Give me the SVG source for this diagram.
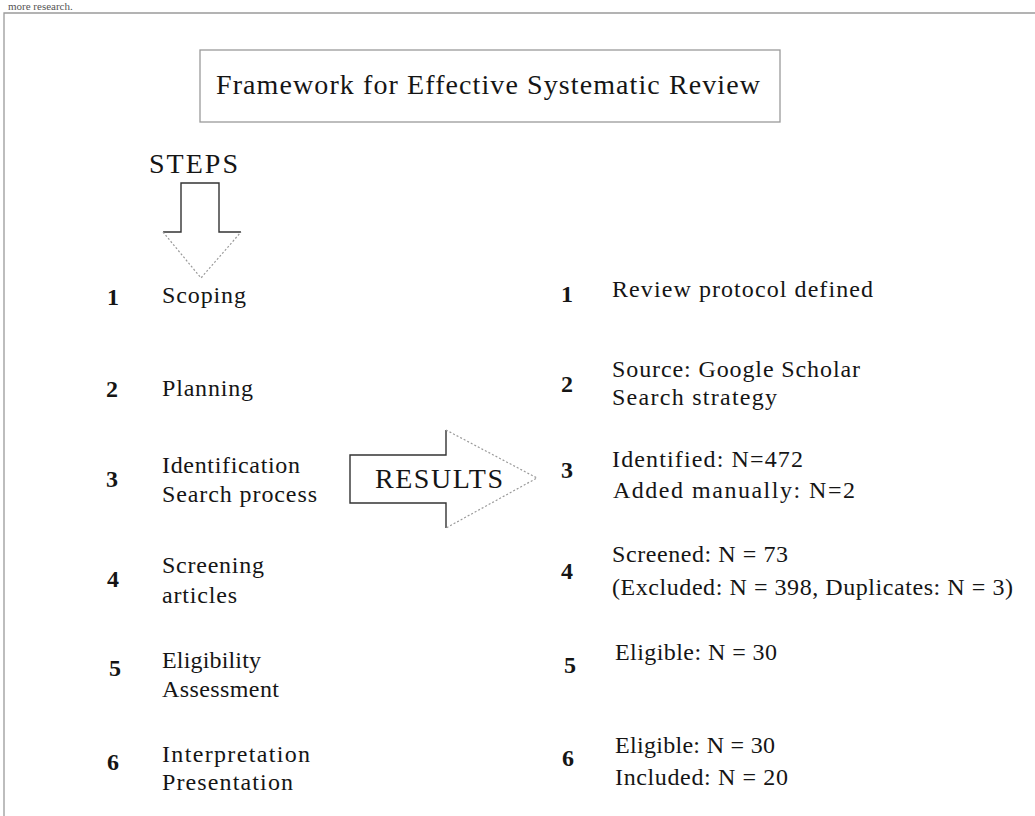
<svg xmlns="http://www.w3.org/2000/svg" width="1035" height="816" viewBox="0 0 1035 816">
<style>
.t,.h,.n,.s{font-family:"Liberation Serif","Times New Roman",serif;fill:#151515}
.t{font-size:24px}
.h{font-size:28px}
.n{font-size:24px;font-weight:bold}
.s{font-size:11px;fill:#555}
.frame{fill:none;stroke:#9a9a9a;stroke-width:1.3}
.solid{fill:none;stroke:#333;stroke-width:1.4}
.dot{fill:none;stroke:#9a9a9a;stroke-width:1.2;stroke-dasharray:2 2}
</style>
<rect width="1035" height="816" fill="#fff"/>
<text class="s" x="8" y="10">more research.</text>
<g id="outer-frame">
<polyline class="frame" points="1040,13 4,13 4,820"/>
</g>
<g id="title">
<rect class="frame" x="200" y="50" width="580" height="72"/>
<text class="h" x="216" y="94" textLength="544" lengthAdjust="spacing">Framework for Effective Systematic Review</text>
</g>
<g id="steps-arrow">
<text class="h" x="149" y="173" textLength="89" lengthAdjust="spacing">STEPS</text>
<polyline class="solid" points="163,232 181,232 181,183 219,183 219,232 241,232"/>
<polyline class="dot" points="163,232 201,278 241,232"/>
</g>
<g id="results-arrow">
<polyline class="solid" points="446,430 446,455 350,455 350,503 446,503 446,528"/>
<polyline class="dot" points="446,430 537,478 446,528"/>
<text class="h" x="375" y="488" textLength="128" lengthAdjust="spacing">RESULTS</text>
</g>
<g id="connectors"></g>
<g id="step1">
<text class="n" x="107" y="305">1</text>
<text class="t" x="162" y="303" textLength="84" lengthAdjust="spacing">Scoping</text>
</g>
<g id="step2">
<text class="n" x="106" y="397">2</text>
<text class="t" x="162" y="396" textLength="91" lengthAdjust="spacing">Planning</text>
</g>
<g id="step3">
<text class="n" x="106" y="487">3</text>
<text class="t" x="162" y="473" textLength="138" lengthAdjust="spacing">Identification</text>
<text class="t" x="162" y="502" textLength="155" lengthAdjust="spacing">Search process</text>
</g>
<g id="step4">
<text class="n" x="107" y="587">4</text>
<text class="t" x="162" y="573" textLength="102" lengthAdjust="spacing">Screening</text>
<text class="t" x="162" y="603" textLength="75" lengthAdjust="spacing">articles</text>
</g>
<g id="step5">
<text class="n" x="109" y="676">5</text>
<text class="t" x="162" y="668" textLength="99" lengthAdjust="spacing">Eligibility</text>
<text class="t" x="162" y="697" textLength="117" lengthAdjust="spacing">Assessment</text>
</g>
<g id="step6">
<text class="n" x="107" y="770">6</text>
<text class="t" x="162" y="762" textLength="148" lengthAdjust="spacing">Interpretation</text>
<text class="t" x="162" y="790" textLength="131" lengthAdjust="spacing">Presentation</text>
</g>
<g id="result1">
<text class="n" x="561" y="302">1</text>
<text class="t" x="612" y="297" textLength="261" lengthAdjust="spacing">Review protocol defined</text>
</g>
<g id="result2">
<text class="n" x="561" y="392">2</text>
<text class="t" x="612" y="377" textLength="248" lengthAdjust="spacing">Source:  Google Scholar</text>
<text class="t" x="612" y="405" textLength="165" lengthAdjust="spacing">Search strategy</text>
</g>
<g id="result3">
<text class="n" x="561" y="478">3</text>
<text class="t" x="612" y="467" textLength="191" lengthAdjust="spacing">Identified:  N=472</text>
<text class="t" x="613" y="498" textLength="242" lengthAdjust="spacing">Added manually:  N=2</text>
</g>
<g id="result4">
<text class="n" x="561" y="579">4</text>
<text class="t" x="612" y="562" textLength="176" lengthAdjust="spacing">Screened:  N = 73</text>
<text class="t" x="612" y="595" textLength="401" lengthAdjust="spacing">(Excluded:  N = 398, Duplicates:  N = 3)</text>
</g>
<g id="result5">
<text class="n" x="564" y="673">5</text>
<text class="t" x="615" y="660" textLength="162" lengthAdjust="spacing">Eligible:  N = 30</text>
</g>
<g id="result6">
<text class="n" x="562" y="766">6</text>
<text class="t" x="615" y="753" textLength="160" lengthAdjust="spacing">Eligible:  N = 30</text>
<text class="t" x="615" y="785" textLength="173" lengthAdjust="spacing">Included:  N = 20</text>
</g>
</svg>
